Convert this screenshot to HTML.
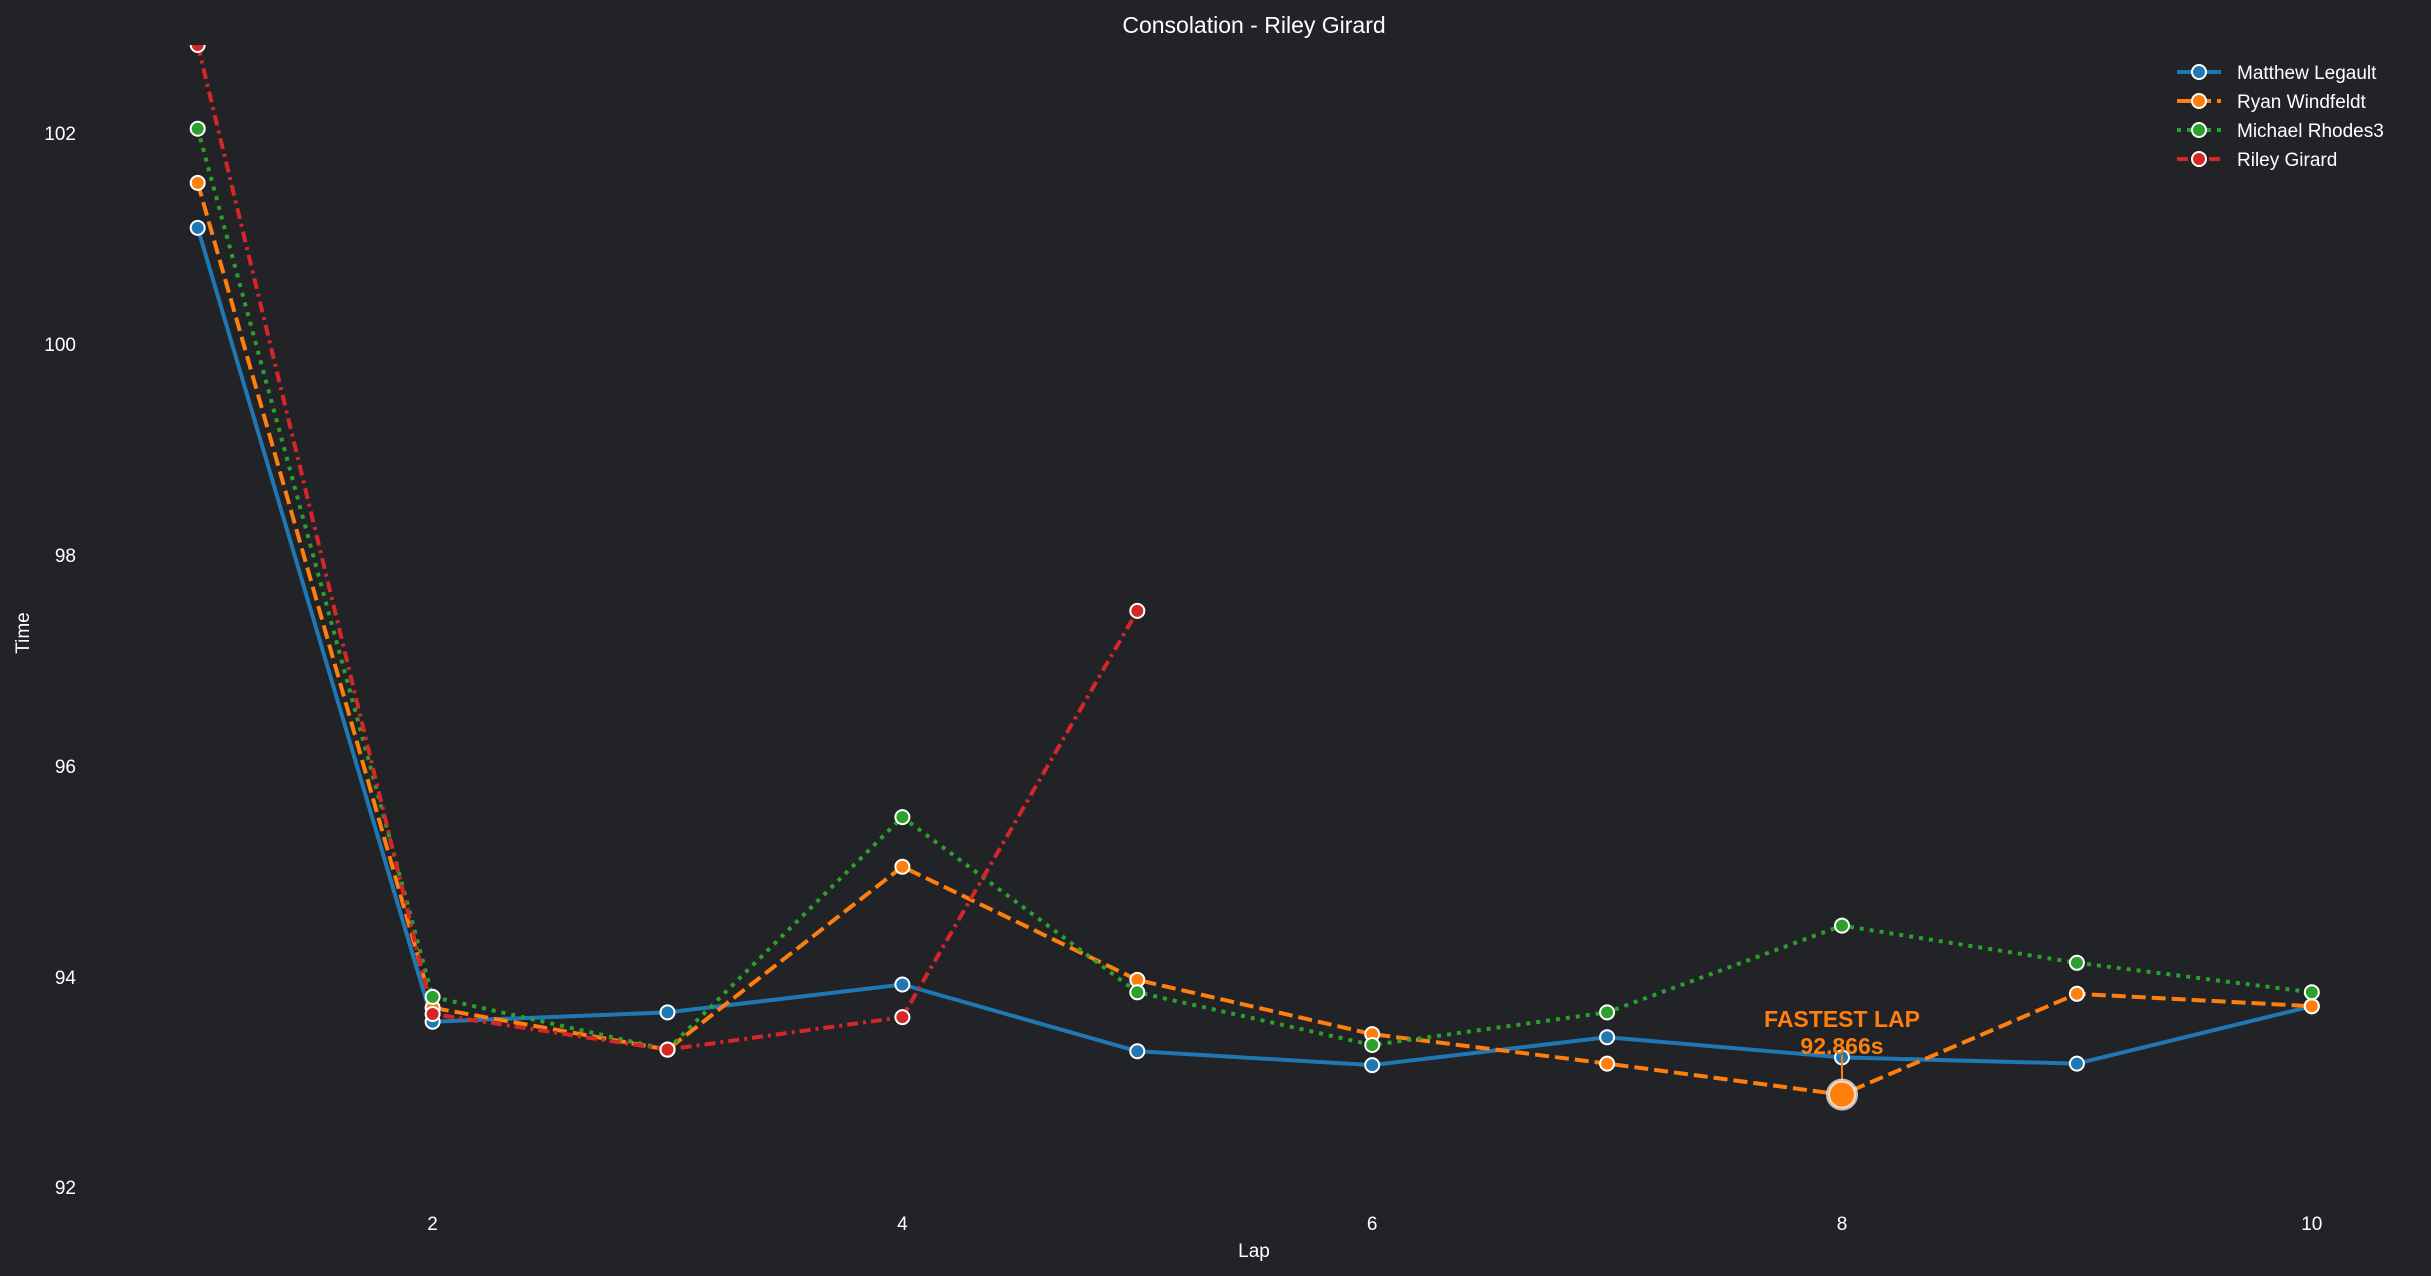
<!DOCTYPE html>
<html><head><meta charset="utf-8"><style>
html,body{margin:0;padding:0;background:#212327;}
svg{display:block;}
text{font-family:"Liberation Sans",Arial,sans-serif;fill:#fff;}
</style></head><body>
<svg width="2431" height="1276" viewBox="0 0 2431 1276" xmlns="http://www.w3.org/2000/svg">
<rect width="2431" height="1276" fill="#212327"/>
<defs><clipPath id="c"><rect x="120" y="45" width="2260" height="1160"/></clipPath></defs>
<text x="1254" y="33" font-size="23" text-anchor="middle">Consolation - Riley Girard</text>
<g font-size="19" text-anchor="end">
<text x="76" y="140">102</text><text x="76" y="351">100</text><text x="76" y="562">98</text>
<text x="76" y="773">96</text><text x="76" y="984">94</text><text x="76" y="1194">92</text>
</g>
<g font-size="19" text-anchor="middle">
<text x="432.6" y="1230">2</text><text x="902.4" y="1230">4</text><text x="1372.2" y="1230">6</text>
<text x="1842" y="1230">8</text><text x="2311.8" y="1230">10</text>
<text x="1254" y="1257">Lap</text>
</g>
<text x="29" y="633" font-size="19" text-anchor="middle" transform="rotate(-90 29 633)">Time</text>
<g clip-path="url(#c)" fill="none" stroke-width="4" stroke-linejoin="round">
<polyline stroke="#1f77b4" points="197.7,227.9 432.6,1021.7 667.5,1012.4 902.4,984.5 1137.3,1051.2 1372.2,1065.1 1607.1,1037.2 1842,1057.4 2076.9,1063.6 2311.8,1006.2"/>
<polyline stroke="#ff7f0e" stroke-dasharray="14,6" points="197.7,182.9 432.6,1007.8 667.5,1049.6 902.4,866.7 1137.3,979.9 1372.2,1034.1 1607.1,1063.6 1842,1094.6 2076.9,993.8 2311.8,1006.2"/>
<polyline stroke="#2ca02c" stroke-dasharray="4,6" points="197.7,128.7 432.6,996.9 667.5,1049.6 902.4,817.1 1137.3,992.3 1372.2,1045 1607.1,1012.4 1842,925.6 2076.9,962.8 2311.8,992.3"/>
<polyline stroke="#d62728" stroke-dasharray="11,5,3,5" points="197.7,45 432.6,1014 667.5,1049.6 902.4,1017.1 1137.3,610.9"/>
</g>
<g clip-path="url(#c)" stroke="#fff" stroke-width="2">
<g fill="#1f77b4"><circle cx="197.7" cy="227.9" r="7"/><circle cx="432.6" cy="1021.7" r="7"/><circle cx="667.5" cy="1012.4" r="7"/><circle cx="902.4" cy="984.5" r="7"/><circle cx="1137.3" cy="1051.2" r="7"/><circle cx="1372.2" cy="1065.1" r="7"/><circle cx="1607.1" cy="1037.2" r="7"/><circle cx="1842" cy="1057.4" r="7"/><circle cx="2076.9" cy="1063.6" r="7"/><circle cx="2311.8" cy="1006.2" r="7"/></g>
<g fill="#ff7f0e"><circle cx="197.7" cy="182.9" r="7"/><circle cx="432.6" cy="1007.8" r="7"/><circle cx="667.5" cy="1049.6" r="7"/><circle cx="902.4" cy="866.7" r="7"/><circle cx="1137.3" cy="979.9" r="7"/><circle cx="1372.2" cy="1034.1" r="7"/><circle cx="1607.1" cy="1063.6" r="7"/><circle cx="1842" cy="1094.6" r="7"/><circle cx="2076.9" cy="993.8" r="7"/><circle cx="2311.8" cy="1006.2" r="7"/></g>
<g fill="#2ca02c"><circle cx="197.7" cy="128.7" r="7"/><circle cx="432.6" cy="996.9" r="7"/><circle cx="667.5" cy="1049.6" r="7"/><circle cx="902.4" cy="817.1" r="7"/><circle cx="1137.3" cy="992.3" r="7"/><circle cx="1372.2" cy="1045" r="7"/><circle cx="1607.1" cy="1012.4" r="7"/><circle cx="1842" cy="925.6" r="7"/><circle cx="2076.9" cy="962.8" r="7"/><circle cx="2311.8" cy="992.3" r="7"/></g>
<g fill="#d62728"><circle cx="197.7" cy="45" r="7"/><circle cx="432.6" cy="1014" r="7"/><circle cx="667.5" cy="1049.6" r="7"/><circle cx="902.4" cy="1017.1" r="7"/><circle cx="1137.3" cy="610.9" r="7"/></g>
</g>
<line x1="1842" y1="1055" x2="1842" y2="1080" stroke="#ff7f0e" stroke-width="2"/>
<circle cx="1842" cy="1094.6" r="14" fill="#ff7f0e" stroke="#fff" stroke-opacity="0.7" stroke-width="4"/>
<g font-size="23" font-weight="bold" text-anchor="middle" style="fill:#ff7f0e">
<text x="1842" y="1027" style="fill:#ff7f0e">FASTEST LAP</text>
<text x="1842" y="1054" style="fill:#ff7f0e">92.866s</text>
</g>
<g stroke-width="4">
<line x1="2177" y1="72" x2="2221" y2="72" stroke="#1f77b4"/>
<line x1="2177" y1="101" x2="2221" y2="101" stroke="#ff7f0e" stroke-dasharray="14,6"/>
<line x1="2177" y1="130" x2="2221" y2="130" stroke="#2ca02c" stroke-dasharray="4,6"/>
<line x1="2177" y1="159" x2="2221" y2="159" stroke="#d62728" stroke-dasharray="11,5"/>
</g>
<g stroke="#fff" stroke-width="2">
<circle cx="2199" cy="72" r="7" fill="#1f77b4"/><circle cx="2199" cy="101" r="7" fill="#ff7f0e"/>
<circle cx="2199" cy="130" r="7" fill="#2ca02c"/><circle cx="2199" cy="159" r="7" fill="#d62728"/>
</g>
<g font-size="19">
<text x="2237" y="79">Matthew Legault</text><text x="2237" y="108">Ryan Windfeldt</text>
<text x="2237" y="137">Michael Rhodes3</text><text x="2237" y="166">Riley Girard</text>
</g>
</svg>
</body></html>
